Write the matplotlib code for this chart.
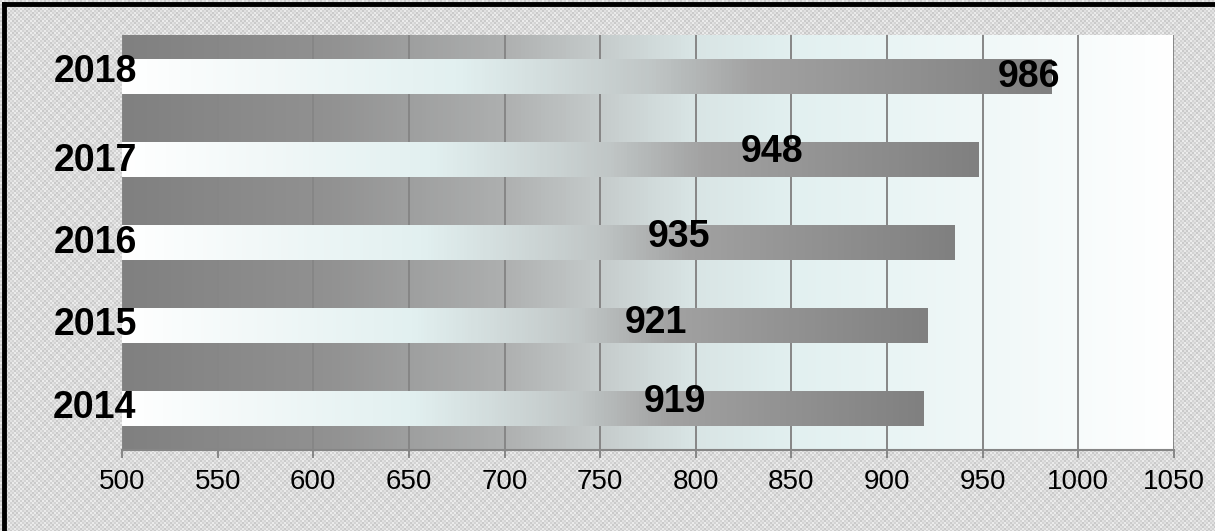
import numpy as np
import matplotlib
matplotlib.use('Agg')
import matplotlib.pyplot as plt
from matplotlib.colors import LinearSegmentedColormap
from matplotlib.lines import Line2D

# chart data
years = ['2014', '2015', '2016', '2017', '2018']
values = [919, 921, 935, 948, 986]
x_ticks = [500, 550, 600, 650, 700, 750, 800, 850, 900, 950, 1000, 1050]

# where the value labels sit (they were placed by hand in the original)
label_x = [789, 779, 791, 840, 974]
label_dy = [0.08, 0.03, 0.07, 0.09, -0.01]
year_dy = [0.0, 0.0, -0.01, -0.02, 0.05]

plt.rcParams['font.family'] = ['Liberation Sans', 'DejaVu Sans']

bar_cmap = LinearSegmentedColormap.from_list('bar', [
    (0.0, '#ffffff'), (0.36, '#e2f0f0'), (0.57, '#c0c6c6'),
    (0.68, '#a2a2a2'), (1.0, '#808080')])
bg_cmap = LinearSegmentedColormap.from_list('bg', [
    (0.0, '#808080'), (0.2, '#929292'), (0.36, '#adafaf'), (0.45, '#c4caca'),
    (0.54, '#d8e4e4'), (0.64, '#e2f0f0'), (0.82, '#f0f8f8'), (1.0, '#ffffff')])

fig = plt.figure(figsize=(12.15, 5.31), dpi=100)

# checkered grey texture behind everything
h, w = 531, 1215
jj, ii = np.meshgrid(np.arange(w), np.arange(h))
tex = np.where(((ii // 2) + (jj // 2)) % 2 == 0, 0.81, 0.90)
tex = tex + np.where(((ii // 6) + (jj // 6)) % 2 == 0, 0.02, -0.02)
fig.figimage(tex, xo=0, yo=0, cmap='gray', vmin=0, vmax=1, zorder=-10)

ax = fig.add_axes([122 / 1215, 1 - 450 / 531, (1174 - 122) / 1215, (450 - 35) / 531])
ax.patch.set_alpha(0)

grad = np.linspace(0, 1, 256).reshape(1, -1)
ax.imshow(grad, cmap=bg_cmap, extent=[500, 1050, -0.5, 4.5], aspect='auto', zorder=0)

for xt in x_ticks:
    ax.axvline(xt, color='#868686', lw=1.4, zorder=1)

bar_h = 0.41
for i, v in enumerate(values):
    ax.imshow(grad, cmap=bar_cmap, extent=[500, v, i - bar_h / 2, i + bar_h / 2],
              aspect='auto', zorder=2)
    ax.text(label_x[i], i + label_dy[i], str(v), ha='center', va='center',
            fontsize=27, fontweight='bold', color='black', zorder=5)
    ax.text(0.014, i + year_dy[i], years[i], transform=ax.get_yaxis_transform(),
            ha='right', va='center', fontsize=27, fontweight='bold',
            color='black', zorder=5, clip_on=False)

ax.set_xlim(500, 1050)
ax.set_ylim(-0.5, 4.5)
ax.set_xticks(x_ticks)
ax.set_yticks([])
ax.tick_params(axis='x', length=6, width=1.4, color='#868686', labelsize=20, pad=8)
for s in ['left', 'right', 'top']:
    ax.spines[s].set_visible(False)
ax.spines['bottom'].set_color('#868686')
ax.spines['bottom'].set_linewidth(1.5)

# black frame on the top and left edge
fig.add_artist(Line2D([4 / 1215, 4 / 1215], [0, 1 - 4 / 531], color='black', lw=3.5, transform=fig.transFigure))
fig.add_artist(Line2D([4 / 1215, 1], [1 - 4 / 531, 1 - 4 / 531], color='black', lw=3.5, transform=fig.transFigure))

fig.savefig('out.png', dpi=100)
